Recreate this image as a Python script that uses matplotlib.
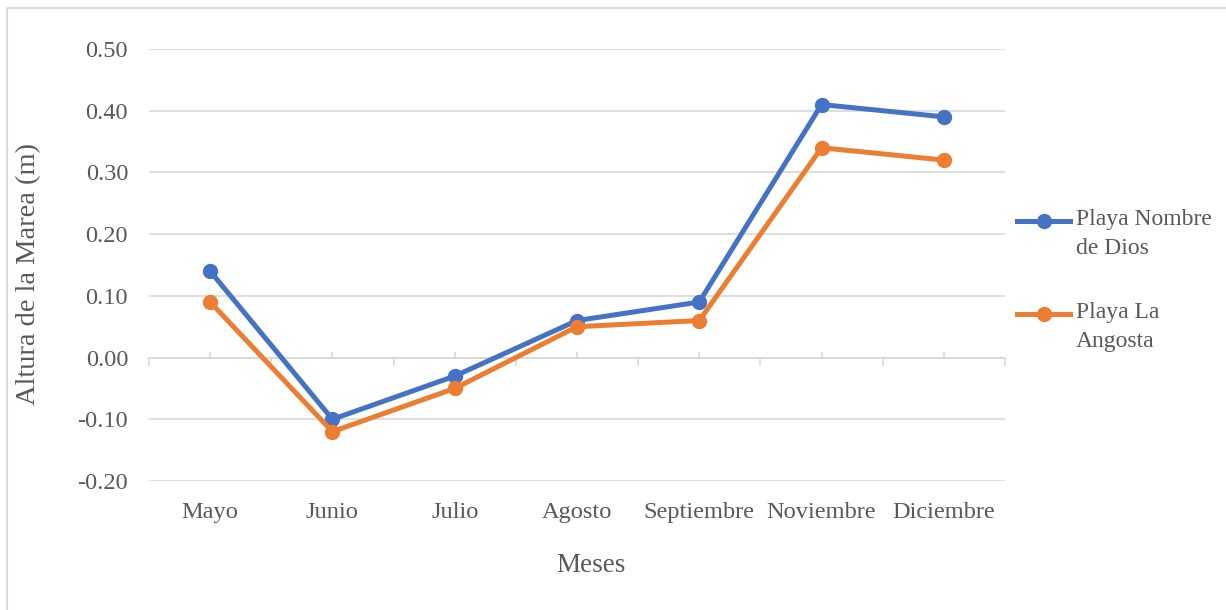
import matplotlib
matplotlib.use("Agg")
import matplotlib.pyplot as plt
from matplotlib.patches import Rectangle
from matplotlib.ticker import FormatStrFormatter, FixedLocator

meses = ["Mayo", "Junio", "Julio", "Agosto", "Septiembre", "Noviembre", "Diciembre"]
nombre_de_dios = [0.14, -0.10, -0.03, 0.06, 0.09, 0.41, 0.39]
la_angosta = [0.09, -0.12, -0.05, 0.05, 0.06, 0.34, 0.32]
yticks = [-0.20, -0.10, 0.00, 0.10, 0.20, 0.30, 0.40, 0.50]

gray_text = "#595959"
grid_col = "#D9D9D9"
fs = 17.6

plt.rcParams["font.family"] = ["Liberation Serif", "DejaVu Serif"]

fig = plt.figure(figsize=(12.26, 6.10), dpi=100)
ax = fig.add_axes([149 / 1226, 1 - 481 / 610, 856 / 1226, 432 / 610])

x = list(range(len(meses)))
ax.plot(x, nombre_de_dios, color="#4472C4", lw=3.6, marker="o", ms=10,
        label="Playa Nombre\nde Dios", zorder=3)
ax.plot(x, la_angosta, color="#ED7D31", lw=3.6, marker="o", ms=10,
        label="Playa La\nAngosta", zorder=3)

ax.set_xlim(-0.5, len(meses) - 0.5)
ax.set_ylim(-0.2, 0.5)
ax.set_yticks(yticks)
ax.yaxis.set_major_formatter(FormatStrFormatter("%.2f"))
ax.set_xticks(x)
ax.set_xticklabels(meses)
ax.tick_params(axis="both", length=0, labelsize=fs, labelcolor=gray_text)
ax.tick_params(axis="x", pad=15)
ax.tick_params(axis="y", pad=15)
ax.grid(axis="y", color=grid_col, lw=1.2)
ax.set_axisbelow(True)
for s in ax.spines.values():
    s.set_visible(False)

# horizontal axis line at zero with category separators
sec = ax.secondary_xaxis(2 / 7)
sec.spines["bottom"].set_color(grid_col)
sec.spines["bottom"].set_linewidth(1.2)
sec.xaxis.set_major_locator(FixedLocator([i - 0.5 for i in range(len(meses) + 1)]))
sec.xaxis.set_minor_locator(FixedLocator(x))
sec.tick_params(which="major", direction="out", length=6, width=1.2, color=grid_col,
                labelbottom=False)
sec.tick_params(which="minor", direction="in", length=4, width=1.2, color=grid_col)

ax.set_ylabel("Altura de la Marea (m)", fontsize=20.5, color=gray_text, va="center")
ax.yaxis.set_label_coords(-0.1408, 0.479)
ax.set_xlabel("Meses", fontsize=19.5, color=gray_text, va="center")
ax.xaxis.set_label_coords(0.516, -0.195)

leg = ax.legend(loc="upper left", bbox_to_anchor=((1017 - 149) / 856, (481 - 209) / 432),
                frameon=False, fontsize=17, handlelength=2.25, handletextpad=0.25,
                labelspacing=1.85, borderaxespad=0, borderpad=0)
for t in leg.get_texts():
    t.set_color(gray_text)
    t.set_linespacing(1.48)
# put the legend line next to the first text line, as the original does
for h in leg.legend_handles:
    h.set_ydata([y + 9.0 for y in h.get_ydata()])

border = Rectangle((7 / 1226, -0.1), 1.5, 1.1 - 8 / 610, transform=fig.transFigure,
                   fill=False, edgecolor="#D9D9D9", lw=1.5)
fig.add_artist(border)

fig.savefig("out.png", dpi=100)
